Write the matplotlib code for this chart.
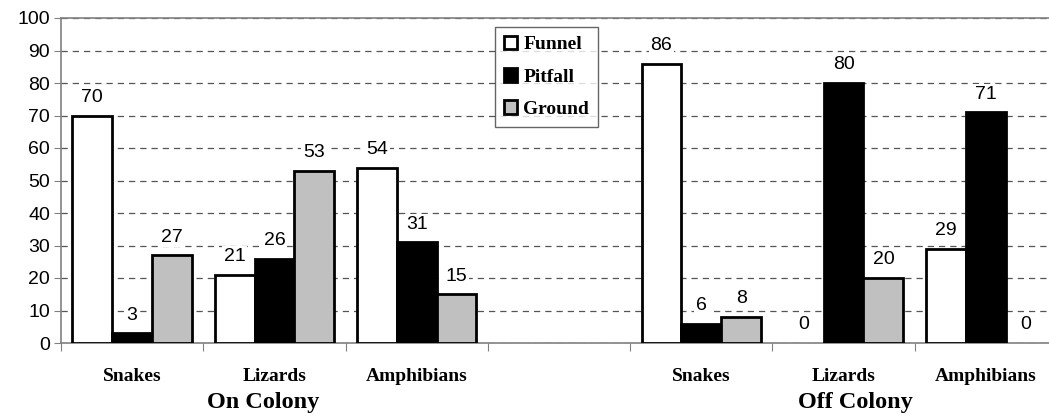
import matplotlib.pyplot as plt
import numpy as np

# ── Data ──────────────────────────────────────────────────────────────────────

categories = ["Snakes", "Lizards", "Amphibians", "", "Snakes", "Lizards", "Amphibians"]
groups     = ["On Colony", "Off Colony"]
series     = ["Funnel", "Pitfall", "Ground"]

funnel  = [70, 21, 54, None, 86, 0, 29]
pitfall = [3, 26, 31, None, 6, 80, 71]
ground  = [27, 53, 15, None, 8, 20, 0]

colors = ["white", "black", "#c0c0c0"]

# ── Plot ──────────────────────────────────────────────────────────────────────

W, H = 1049, 417
fig = plt.figure(figsize=(W / 100, H / 100), dpi=100)
ax = fig.add_axes([61 / W, 1 - 343 / H, 996 / W, 325 / H])

sans  = "Liberation Sans"
serif = "Liberation Serif"

x = np.arange(len(categories))
bw = 0.28
for k, (vals, col) in enumerate(zip([funnel, pitfall, ground], colors)):
    xs = [xi + (k - 1) * bw for xi, v in zip(x, vals) if v is not None]
    vs = [v for v in vals if v is not None]
    # zero-height bars leave no outline, as in the original
    lws = [2 if v > 0 else 0 for v in vs]
    ax.bar(xs, vs, width=bw, color=col, edgecolor="black", linewidth=lws,
           label=series[k], zorder=3)
    for xi, v in zip(xs, vs):
        ax.annotate(f"{v}", (xi, v), xytext=(0, 7), textcoords="offset points",
                    ha="center", va="bottom", fontsize=14, family=sans,
                    bbox=dict(boxstyle="square,pad=0.1", fc="white", ec="none"),
                    zorder=4)

ax.set_xlim(-0.5, len(categories) - 0.5)
ax.set_ylim(0, 100)
ax.set_yticks(range(0, 101, 10))
ax.set_yticklabels([str(v) for v in range(0, 101, 10)], fontsize=14, family=sans)
ax.yaxis.grid(True, linestyle=(0, (5, 4)), color="#555555", linewidth=0.9, zorder=0)

ax.set_xticks(np.arange(-0.5, len(categories), 1.0))
ax.set_xticklabels([])
ax.tick_params(axis="x", length=6, color="#808080", direction="out")
ax.tick_params(axis="y", length=5, color="#808080", direction="out", pad=3)

for s in ["left", "bottom", "top", "right"]:
    ax.spines[s].set_color("#808080")
    ax.spines[s].set_linewidth(1.2)

# category labels
for xi, name in zip(x, categories):
    ax.text(xi, -10.3, name, ha="center", va="center", fontsize=14,
            fontweight="bold", family=serif, clip_on=False)

# group labels
for gx, g in zip([0.92, 5.08], groups):
    ax.text(gx, -18.3, g, ha="center", va="center", fontsize=17.5,
            fontweight="bold", family=serif, clip_on=False)

leg = ax.legend(loc="upper left", bbox_to_anchor=((495 - 61) / 996, 1 - 9 / 325),
                frameon=True, fancybox=False, edgecolor="#404040",
                prop=dict(family=serif, weight="bold", size=14),
                handlelength=0.7, handleheight=0.7, handletextpad=0.3,
                labelspacing=0.75, borderpad=0.45, borderaxespad=0)
leg.get_frame().set_linewidth(1.0)

fig.savefig("out.png", dpi=100)
